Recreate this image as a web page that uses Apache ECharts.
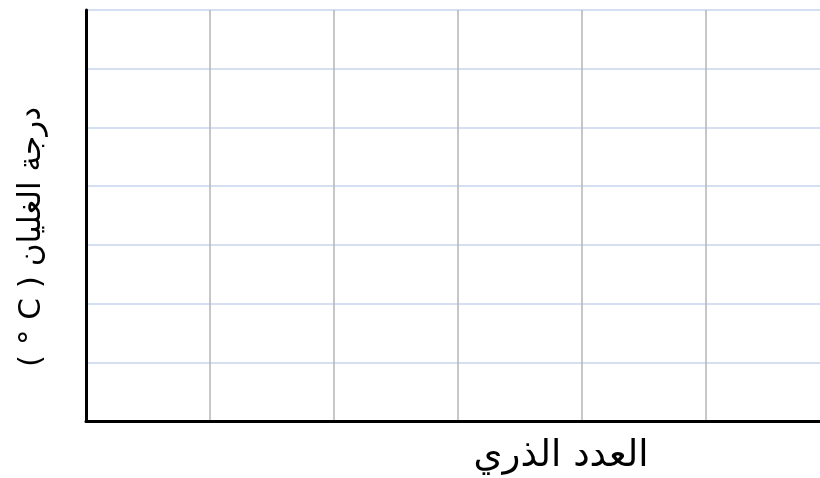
<!DOCTYPE html>
<html>
<head>
<meta charset="utf-8">
<script src="https://cdn.jsdelivr.net/npm/echarts@6/dist/echarts.min.js"></script>
<style>
  html, body { margin: 0; padding: 0; background: #fff; overflow: hidden; }
  /* the grid runs past the right edge of the window, so the box is a bit wider */
  #box { width: 830px; height: 478px; }
</style>
</head>
<body>
<div id="box"></div>
<script>
// empty graph paper: the axes carry no values, only grid cells
const xTicks = [0, 1, 2, 3, 4, 5, 6]
const yTicks = [0, 1, 2, 3, 4, 5, 6, 7]
const xTitle = 'العدد الذري'
const yTitle = 'درجة الغليان ( C ° )'

const chart = echarts.init(document.getElementById('box'))

chart.setOption({
    animation: false,
    grid: { left: 86, right: 0, top: 10, bottom: 57, containLabel: false },
    xAxis: {
        type: 'value',
        min: xTicks[0],
        max: xTicks[xTicks.length - 1],
        interval: 1,
        axisLine: { show: true, onZero: false, lineStyle: { color: '#000', width: 3 } },
        axisTick: { show: false },
        axisLabel: { show: false },
        splitLine: { show: true, lineStyle: { color: '#b4b4b4', width: 1.5 } }
    },
    yAxis: {
        type: 'value',
        min: yTicks[0],
        max: yTicks[yTicks.length - 1],
        interval: 1,
        axisLine: { show: true, onZero: false, lineStyle: { color: '#000', width: 3 } },
        axisTick: { show: false },
        axisLabel: { show: false },
        splitLine: { show: true, lineStyle: { color: '#c6d6ec', width: 1.5 } }
    },
    graphic: [
        {
            type: 'text',
            x: 561, y: 456,
            style: {
                text: '\u202B' + xTitle + '\u202C',
                font: '37px "DejaVu Sans", sans-serif',
                fill: '#000',
                align: 'center',
                verticalAlign: 'middle'
            }
        },
        {
            type: 'text',
            x: 32, y: 237,
            rotation: Math.PI / 2,
            style: {
                text: '\u202B' + yTitle + '\u202C',
                font: '31px "DejaVu Sans", sans-serif',
                fill: '#000',
                align: 'center',
                verticalAlign: 'middle'
            }
        }
    ],
    series: [{ type: 'line', data: [] }]
})
</script>
</body>
</html>
